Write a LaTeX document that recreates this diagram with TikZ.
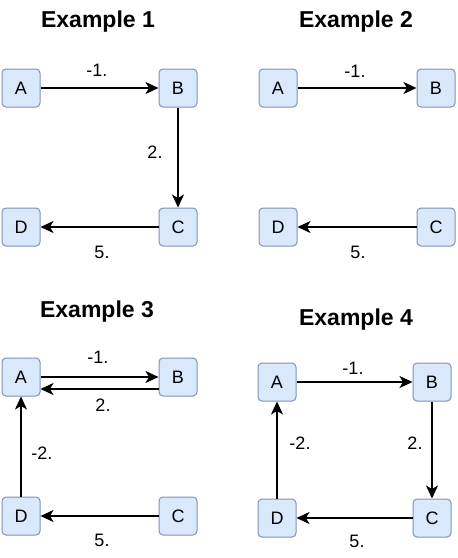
\documentclass[tikz,border=0pt]{standalone}
\usepackage{fontspec}
\setmainfont{Liberation Sans}
\usetikzlibrary{arrows.meta}
\definecolor{boxfill}{HTML}{DAE8FC}
\definecolor{boxline}{HTML}{7F93B3}
\tikzset{
  box/.style={draw=boxline, fill=boxfill, line width=1pt, rounded corners=4pt,
    minimum width=38pt, minimum height=38pt, inner sep=0pt, font=\fontsize{18}{18}\selectfont},
  title/.style={font=\fontsize{23}{23}\selectfont\bfseries, inner sep=0pt},
  lbl/.style={font=\fontsize{18}{18}\selectfont, inner sep=0pt},
  conn/.style={line width=1.6pt, -{Stealth[length=13pt, width=12pt, inset=3.5pt]}},
}
\begin{document}
\begin{tikzpicture}[x=1pt, y=-1pt]
\useasboundingbox (0,0) rectangle (458,558);
% Example 1
\node[title] (t1) at (98,22) {Example 1};
\node[box] (a1) at (21,88) {A};
\node[box] (b1) at (178,88) {B};
\node[box] (c1) at (178,227) {C};
\node[box] (d1) at (21,227) {D};
\draw[conn] (a1) -- (b1);
\draw[conn] (b1) -- (c1);
\draw[conn] (c1) -- (d1);
\node[lbl] (l11) at (97,70) {-1.};
\node[lbl] (l12) at (155,152) {2.};
\node[lbl] (l13) at (102,252) {5.};
% Example 2
\node[title] (t2) at (356,22) {Example 2};
\node[box] (a2) at (278,88) {A};
\node[box] (b2) at (436,88) {B};
\node[box] (c2) at (436,227) {C};
\node[box] (d2) at (278,227) {D};
\draw[conn] (a2) -- (b2);
\draw[conn] (c2) -- (d2);
\node[lbl] (l21) at (355,71) {-1.};
\node[lbl] (l22) at (358,252) {5.};
% Example 3
\node[title] (t3) at (97,312) {Example 3};
\node[box] (a3) at (21,377) {A};
\node[box] (b3) at (178,377) {B};
\node[box] (c3) at (178,516) {C};
\node[box] (d3) at (21,516) {D};
\draw[conn] (a3.east) -- (b3.west);
\draw[conn] ([yshift=-12pt]b3.west) -- ([yshift=-12pt]a3.east);
\draw[conn] (c3) -- (d3);
\draw[conn] (d3) -- (a3);
\node[lbl] (l31) at (98,357) {-1.};
\node[lbl] (l32) at (103,405) {2.};
\node[lbl] (l33) at (42,453) {-2.};
\node[lbl] (l34) at (102,540) {5.};
% Example 4
\node[title] (t4) at (356,320) {Example 4};
\node[box] (a4) at (277,382) {A};
\node[box] (b4) at (432,382) {B};
\node[box] (c4) at (432,518) {C};
\node[box] (d4) at (277,518) {D};
\draw[conn] (a4) -- (b4);
\draw[conn] (b4) -- (c4);
\draw[conn] (c4) -- (d4);
\draw[conn] (d4) -- (a4);
\node[lbl] (l41) at (353,368) {-1.};
\node[lbl] (l42) at (415,443) {2.};
\node[lbl] (l43) at (300,443) {-2.};
\node[lbl] (l44) at (357,541) {5.};
\end{tikzpicture}
\end{document}
